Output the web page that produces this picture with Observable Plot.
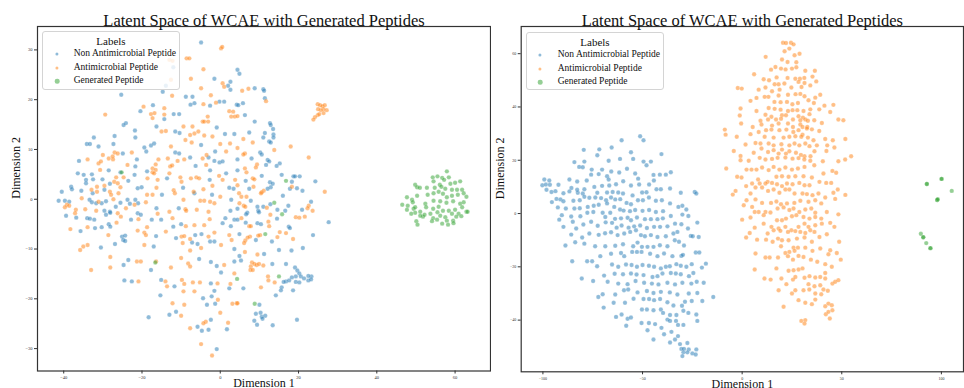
<!DOCTYPE html>
<html><head><meta charset="utf-8">
<script src="https://cdn.jsdelivr.net/npm/d3@7"></script>
<script src="https://cdn.jsdelivr.net/npm/@observablehq/plot@0.6"></script>
<style>
body{margin:0;background:#fff;}
#wrap{position:relative;width:964px;height:388px;overflow:hidden;font-family:"Liberation Serif","Times New Roman",serif;background:#fff;}
.panel{position:absolute;top:0;}
.legend{position:absolute;border:1px solid #d4d4d4;border-radius:3px;background:rgba(255,255,255,0.8);box-sizing:border-box;}
.legend .ttl{position:absolute;left:0;right:0;text-align:center;font-size:11px;color:#111;transform:translateY(-50%);line-height:1;}
.legend .ent{position:absolute;font-size:9.5px;color:#111;transform:translateY(-50%);line-height:1;white-space:nowrap;}
.legend .mk{position:absolute;border-radius:50%;transform:translate(-50%,-50%);}
</style></head>
<body><div id="wrap"></div>
<script>
const title = "Latent Space of WCAE with Generated Peptides";
const labels = ["Non Antimicrobial Peptide", "Antimicrobial Peptide", "Generated Peptide"];
const colors = ["#1f77b4", "#ff7f0e", "#2ca02c"];
const legendTitle = "Labels";
const xLabel = "Dimension 1";
const yLabel = "Dimension 2";

// ---- left panel ----
const leftXTicks = [-40, -20, 0, 20, 40, 60];
const leftYTicks = [-30, -20, -10, 0, 10, 20, 30];
const leftNonAmp = [
[-4.9,31.5],[-12,26.5],[-1.5,24.2],[2.6,23.6],[2,22.8],[-13.9,22.8],[2.6,22],[-14.7,21.6],[-25.3,21],[-8.8,20.6],[-7.1,20.6],[-0.2,19.6],[1,19.6],[-6.6,19.3],[-7.6,19],[-2.6,18.8],[4.2,19],[-17.2,18.9],[-20.4,17.7],[-11.9,17.1],[-10.5,17.1],[-14.3,16.1],[-24.1,15.3],[-24.7,14.9],[-16.3,14.6],[-0.9,14.4],[-11.5,13.6],[-10.4,13.3],[-21.8,13.8],[3.6,13.1],[1.2,13.1],[-27,12.7],[-32.3,12.4],[-21.7,12.4],[-4.9,10.9],[-34.1,11.1],[-33.3,11.1],[-27.3,11.1],[-31.1,10.6],[-17.7,10.8],[-16.9,11.2],[-19.4,10.4],[-24.9,9.2],[-18.9,9.6],[-11.5,9.4],[-10.5,9.2],[-1.3,9.6],[-3,8.4],[-36.1,7.7],[-21.3,8],[-7.7,8.4],[-1.5,7.7],[-0.2,7.4],[0.6,7.6],[-21.7,6.6],[-6.3,6.7],[-2.6,5.8],[-18.7,5.6],[-36.4,5.2],[-34.9,4.9],[-32.8,5],[-28.5,5.8],[-25.5,5.4],[-21.9,4.9],[1.5,5.2],[-34.3,3.9],[-32.5,4],[-30.1,4],[-23.5,3.7],[-13.6,4.2],[-2.7,3.9],[-34.3,3.2],[-28.2,3.1],[-38.1,2.5],[-37.9,2],[-40.5,1.5],[-35.5,1.7],[-29.6,1.9],[-21.1,2.2],[-20.1,2.4],[-9.5,2.3],[2.3,2.3],[3.4,2.1],[-32.6,1.2],[-14.9,0.9],[-6.6,1.2],[-2.1,0.9],[-41.3,-0.3],[-39.7,-0.3],[-38.6,-0.5],[-33.4,-0.1],[-32.8,-0.6],[-31.7,-0.8],[-30.3,-0.8],[-29.2,-0.4],[-23.7,-0.1],[-23.1,-0.9],[-21.7,-0.1],[-25.5,-0.7],[-21,-0.8],[2.8,-0.1],[-16.3,-1.8],[-10.6,-1.8],[2.6,-2.3],[-29.6,-2.3],[-28.2,-2.5],[-26.7,-1.5],[-21.1,-2.8],[-20.3,-3.1],[-39.4,-3.3],[-36.8,-3.7],[-34,-3.8],[-33.3,-3.9],[-32.2,-4.1],[-29.2,-3.1],[-28.1,-2.7],[-22.8,-4.1],[-17.5,-4.1],[-15.1,-4.1],[1.3,-3.8],[3.6,-4.1],[-28.5,-5],[-28.1,-5.5],[-32,-5.8],[-30.3,-5.6],[-12,-5.5],[-10,-5],[0.6,-4.8],[2.7,-5.4],[-16.4,-7.4],[-25.1,-7.5],[-24.3,-7.3],[-35.7,-6.4],[-11.3,-7.8],[-6.4,-7.2],[-4.8,-7],[-2.6,-8.5],[-1.5,-8.5],[-24.8,-8.2],[-24.3,-8.4],[-30.5,-9.7],[-26.9,-9],[-17,-9.5],[-7.2,-8.7],[-5.8,-9],[3.6,-10],[-23.5,-12.2],[-17.7,-14.2],[-5.4,-12],[-2.4,-12.6],[-0.9,-13.4],[3.6,-12.5],[-24.7,-13.2],[0.2,-14.7],[-24.5,-16.3],[-22.6,-16.5],[-15.1,-16.2],[-2.4,-16.9],[-11.7,-17.5],[2.3,-17.9],[-1.5,-18.4],[-15.3,-19.3],[-2.2,-19.5],[-4.4,-19.9],[-3.4,-21.2],[-1.3,-21],[-11.3,-22.6],[-13,-23.2],[-18.3,-23.7],[-2.4,-24.2],[-5.8,-25.6],[-4.7,-26.4],[-3,-26.2],[1.7,-26.1],[-0.9,-30.1],
[4.4,26],[4.9,25.2],[8.8,22.3],[11,22.1],[11.2,21.8],[4.6,18.9],[5.8,19.3],[11.4,20.3],[6.3,16.9],[8.8,15.6],[12.7,15.3],[12.9,14.9],[13.5,14.1],[7.4,13.4],[11.4,13.3],[11,12.4],[12.5,11.6],[12.9,11.4],[13.6,13],[13.6,12.4],[10.2,9.4],[10.6,9],[8,8.2],[4.4,8],[12.1,7.9],[12.5,7.6],[11.7,6.9],[15.2,7.2],[14.4,6.7],[4.4,5.8],[15.7,4.9],[10.6,4.7],[18.7,4.6],[19.1,4.6],[20.3,4.6],[18.3,3.5],[12.7,3.4],[24.3,3.6],[13.4,3.1],[6.5,3.7],[7.4,2.1],[12.9,2.4],[12.1,2.1],[17.8,2.1],[19.6,2.2],[21,1.7],[16,0.7],[7.8,-0.3],[12.8,-1],[9.5,-1.5],[11,-1.5],[17.4,-1.3],[23.2,-0.5],[20.9,-2.1],[4.4,-1.9],[6.9,-2.7],[6.6,-3],[9.7,-2.3],[9.9,-2.6],[14.6,-2.1],[16.6,-2.3],[14.5,-3.9],[4.4,-4.1],[9.5,-4.8],[10.4,-5],[6.5,-4.7],[17.5,-5.5],[17.8,-5.8],[27.7,-4.6],[23.7,-7.2],[4.9,-7],[9.1,-8.2],[13.2,-8.5],[18.2,-10.3],[15,-10.2],[21.1,-9.8],[11.2,-11],[4.9,-11.4],[5.3,-12.3],[13.3,-13],[16.8,-13],[19.1,-13.7],[19.7,-14.3],[20.2,-14.9],[19.3,-15.5],[20.6,-15.5],[16.8,-16.5],[17.6,-16.3],[18.3,-15.7],[16.2,-16.6],[19.3,-16.6],[20.2,-16.7],[21.4,-15.9],[22.5,-16.3],[23.3,-15.5],[23.2,-16.1],[22.5,-15.4],[15.7,-17.7],[15.5,-18.3],[5.9,-17.9],[18.6,-18.3],[14.2,-19.3],[10,-21.2],[9.1,-23],[10.3,-22.8],[10.6,-23.6],[11.5,-23.4],[10.8,-24],[8.7,-24.4],[9.4,-25.2],[13.4,-25.3],[19.6,-24.2]
];
const leftAmp = [
[0.2,30.3],[0.5,30.6],[-13,28],[-12.2,27.8],[-8.6,28.3],[-7.9,28.3],[-4.3,26.1],[-7.5,24.2],[-12.6,24],[0.6,23.3],[1,22.6],[-4.9,22.3],[-2.4,20.9],[-12.3,20.8],[-1.1,19.4],[-4.3,19.1],[-19.6,18.6],[-14.3,18.3],[-17.7,17.1],[-16.8,17.3],[-29.4,17],[-14.3,17],[2.3,17.7],[3.3,17.6],[-3.2,16.6],[-4.5,15.6],[2.8,16.6],[3.7,16.6],[-17.3,16.3],[-4.1,15.6],[-3.1,15.6],[-9.4,14.6],[-7.1,14.6],[-15,13.6],[-13.9,13.7],[-7.7,12.9],[-6.6,13.2],[-5.6,13.6],[-4.1,12.8],[-2,12.6],[-8.9,11.9],[-7.3,11.4],[0,11.1],[-12.6,10.6],[2.5,11.2],[-30,8.9],[-27,9.4],[-26.2,9.2],[-22.6,9.4],[1.5,9.6],[-3.5,8.9],[-28.5,8.2],[-27.4,8],[-27.5,8.6],[-33.9,8],[-15.8,8],[-13.4,8.2],[-9.2,8],[-4.5,8.2],[-10.9,7.7],[-16.5,7],[-31.1,7.2],[-30.5,7.6],[-23.7,6.9],[-12.8,6.6],[-12.3,6.8],[-3.6,6.9],[-17.3,6.2],[-16.5,5.9],[-17.3,5.4],[-16.9,5.2],[-30.7,5.9],[-26.6,4.4],[-13,5.2],[-10.2,4.4],[-7.5,4.2],[-6.1,4.4],[-5.4,4.2],[-0.3,4.7],[0.6,3.9],[-24.7,4.4],[-27.1,3.5],[-18.6,4.2],[-16,3.9],[-9.9,3.5],[3.8,3.9],[-31.5,2.5],[-29.6,2.7],[-26.2,3.2],[-25.5,2.4],[-32.9,1.9],[-31.5,1.5],[-28.2,1.5],[-16.3,2.3],[-11.9,1.8],[-4.3,2],[-2,2.7],[-6.8,1.5],[-27.9,0.9],[-26,1.2],[-18.7,0.9],[-17.3,0.9],[-11.6,1.2],[-5.1,-0.3],[-4.1,-0.3],[0,0.5],[-39.2,-1.1],[-38.6,-1.3],[-39.7,-1.6],[-35.4,0.2],[-27.3,0],[-31.1,-0.5],[-21.9,-1.1],[-19,-0.6],[-9.4,-0.1],[-2.6,-0.5],[-1.5,-0.8],[-13,-2.5],[-8.9,-2],[-8.7,-2.3],[-6,-2.1],[-3,-2.5],[-36.9,-2.1],[-34.5,-2],[-31.7,-2.3],[-24.1,-1.8],[-26.2,-2.8],[-16,-2.9],[-12.2,-3.8],[-37.1,-2.8],[-25.4,-3.5],[-20.9,-4],[-2.7,-4],[-26.5,-4.7],[-38.3,-6],[-33.9,-5.6],[-8.8,-5.4],[-6.6,-5.2],[-18.7,-5.6],[-4.1,-5.2],[-19.4,-6.7],[-19,-7.2],[-28.6,-7.2],[-21.1,-6.3],[-13.9,-6.5],[-9.9,-7.5],[-9.2,-7.4],[-7.7,-8],[-3,-7.5],[-1.5,-6.7],[2.3,-7.2],[2.9,-8.2],[-35,-9.5],[-33.9,-9.2],[-19.4,-9.2],[-9.6,-8.8],[-7.7,-10.3],[-4.9,-9.8],[0.2,-9.2],[-35.8,-10.2],[-28.1,-11.6],[-21.3,-12.5],[-20.3,-12.5],[-16.4,-12.5],[-10,-11.8],[-8.2,-12.9],[-7.7,-13.5],[-12.6,-13.7],[1,-13.2],[-33,-14.2],[-28.1,-13.7],[3.6,-14.9],[-20.9,-16.5],[-14,-16.5],[-9.8,-16.2],[-9.2,-17],[-7,-16.7],[-5.2,-16.7],[-0.7,-16.9],[2.6,-17],[-13.6,-17.5],[-9.4,-18.5],[-6.6,-18.5],[-0.6,-20.2],[3.1,-21],[4.2,-20.9],[-12.2,-20.9],[-9.2,-21.2],[0,-22.8],[-10,-23.4],[-3.7,-24.6],[-4.3,-24.9],[2,-24.8],[-7.7,-25.9],[-4.9,-29.1],[-2.1,-31.4],
[5.6,21.8],[7.2,22.2],[11.7,19.7],[4.4,16.7],[24.9,19.1],[25.5,18.9],[26.1,18.7],[26.7,18.9],[27.2,17.9],[26.4,18.1],[25.7,17.9],[25,18.1],[24.9,16.9],[24.2,16.5],[23.8,16],[26.4,17.3],[25.3,17.1],[5.9,12.1],[8.3,11.4],[18,10.6],[4.4,10.3],[13.8,9.9],[6.3,9.2],[5.9,9],[22.6,8.4],[9.4,7],[9.1,6.4],[6.3,6.2],[6.7,5.4],[8.3,4.2],[8.7,4],[4.4,2.8],[4.8,1.2],[8.5,2.5],[11.1,1.7],[10.6,1.4],[10.4,1.2],[18.3,2.5],[26.7,1.5],[5.4,0.5],[6.7,0.5],[4.9,-0.8],[6,-1.3],[6.4,-1.5],[11.9,-1.7],[22.6,-1.3],[22.3,-1.8],[23.6,-2.3],[12.8,-3.1],[19.3,-3.6],[20.2,-3.7],[21.6,-3.5],[5.4,-3.8],[12.3,-4.5],[12.5,-5.4],[7.4,-5.4],[7.8,-5.4],[15.2,-6.6],[16.8,-6.8],[10.2,-7.2],[9.7,-7.3],[14.6,-7.6],[7.6,-7.5],[7,-7.7],[6.4,-8.3],[6.1,-8.8],[18.6,-8],[6.3,-10.6],[9.5,-11.1],[8.1,-12.7],[8.7,-13],[9.3,-13.2],[7.8,-13.5],[9.9,-13],[11,-13.3],[7.7,-14.2],[8.3,-14.2],[12.2,-15.5],[12.3,-16.3],[13.9,-16.7],[10.4,-17.7],[4.4,-20.9]
];
const leftGen = [
[57.9,5.6],[54.3,4.4],[55.5,4.6],[56.7,4.3],[58.4,4.4],[54.5,3.6],[57.2,3.9],[49.8,2.9],[50.3,2.4],[51,2.3],[56.1,2.9],[56.5,2.5],[58.8,3.1],[60,3.3],[61.3,3.6],[52.8,2.3],[54.8,2.3],[57.5,2.1],[59.2,1.9],[60.5,1.9],[61.8,1.9],[47.7,0.4],[49,-0.1],[50.3,0.7],[53,0.9],[54.5,1.2],[55.8,1.5],[56.9,1.1],[57.9,0.4],[59.2,0.7],[60.7,0.9],[62.2,1.2],[62.9,0.5],[46.5,-1.1],[47.9,-1.3],[49.2,-0.6],[52.4,-0.9],[54.5,-0.3],[56.2,-0.4],[57.8,-0.7],[59.5,-0.4],[61.3,-0.9],[62.2,-0.6],[47.7,-2.1],[49.4,-1.9],[52.6,-1.6],[54.4,-1.9],[55.8,-1.5],[58.4,-2.3],[60,-2.1],[61.8,-1.6],[62.9,-2.5],[49.8,-2.7],[51.1,-2.5],[53.7,-2.9],[55.5,-2.6],[56.9,-2.3],[59.2,-2.9],[60.9,-2.9],[51.8,-3.5],[54.4,-3.8],[56.2,-3.3],[57.5,-3.6],[60.3,-3.5],[61.6,-3.4],[63.2,-2.5],[50.1,-4.4],[51.1,-3.3],[54.1,-4.4],[55.4,-4.1],[57.9,-4.3],[59.5,-4.3],[50.4,-5.1],[56.7,-4.9],[58.2,-5.1],[59.6,-4.8],[48.8,-2.9],[52.2,-3.1],[49.8,-1.6],
[-16.6,-12.7],[4.3,-16],[16.8,3.7],[13.8,-0.7],[15.8,-3],[11.5,-7],[15,-15.5],[8.8,-21],[-25.2,5.4]
];

// ---- right panel ----
const rightXTicks = [-100, -50, 0, 50, 100];
const rightYTicks = [-40, -20, 0, 20, 40, 60];
const rightNonAmp = [
[-51.2,29],[-49.5,27.5],[-60.5,27.5],[-65.5,24.8],[-71.7,24.1],[-79.5,23.9],[-55.8,23],[-72.7,21.9],[-61.3,20.5],[-54.7,20.5],[-40.5,22.3],[-67,19.8],[-49.5,19.5],[-45.8,19.5],[-48,18.1],[-84.2,19.3],[-79.2,19.5],[-81.8,17.5],[-80,17.4],[-75.5,16.5],[-70.3,16.5],[-57.8,16.8],[-65.7,15.8],[-61.7,15.4],[-53.7,15],[-75.8,14.6],[-72,14.8],[-44.5,14.5],[-41.3,14.6],[-38.3,14.6],[-35.8,15.5],[-67.8,14],[-52.2,13.1],[-99.3,12.8],[-96.8,12.4],[-86.7,12.8],[-82.8,12],[-78,12.4],[-67,12.8],[-59.7,12.1],[-44.3,12.4],[-100.3,10.6],[-98.5,10.9],[-96.5,10.8],[-92.2,10.8],[-85.7,9.6],[-74.2,10],[-70.3,10.4],[-66.7,10.5],[-63.3,11],[-55.8,10.5],[-51.7,10.9],[-46.7,10.9],[-43,9.1],[-40.8,9.1],[-36.2,9.4],[-98.2,8.9],[-95.7,8.1],[-93.7,8.4],[-89.7,7.6],[-86.7,8.3],[-82.5,7.8],[-80,7.5],[-79.2,9.1],[-82.8,8.9],[-72.7,7.8],[-67.8,7.9],[-65,8.1],[-62.2,7.9],[-59.8,7.5],[-55,6.8],[-50.2,7.9],[-48,8],[-30.8,7.8],[-23.8,8.1],[-23,7.5],[-93.2,5.5],[-91.2,5.3],[-89.7,4.6],[-95.5,4.3],[-84.7,4.8],[-81.5,5],[-79.2,6.3],[-76.7,5.9],[-73.7,6],[-70.8,5.8],[-68.3,5],[-65.8,6],[-63.7,5.3],[-61.2,5.4],[-58,4],[-55.8,3.5],[-52.3,5],[-49.8,5],[-46.8,6],[-43.3,4.8],[-40.3,5],[-36.2,3.8],[-32,2.5],[-30,2.9],[-28,1.5],[-92.5,2.3],[-88.5,1.9],[-84.2,1.9],[-81.5,2],[-77.5,2.5],[-74.5,2.9],[-72,3.3],[-67.8,3.8],[-64.2,2.5],[-61.3,1.5],[-59.5,1.1],[-56.3,0.9],[-53.7,1.3],[-50,1],[-46.7,1.3],[-43.3,0.6],[-39.7,0.9],[-90.5,-0.6],[-85.8,-1.1],[-81.2,-1],[-77.7,0.3],[-74.7,0.6],[-70,0.3],[-66.2,0.3],[-68.7,-1.3],[-63.8,-2],[-60.8,-1.8],[-57.5,-1.6],[-55.8,-2.5],[-52.8,-1.5],[-48.8,-2.1],[-45.8,-2.1],[-42.5,-2.1],[-39.8,-1.8],[-35.8,-0.9],[-30,-0.4],[-27,-0.9],[-91.8,-2.3],[-89.7,-5],[-85,-3.1],[-83.3,-5.6],[-79.7,-4.1],[-75.8,-3.1],[-72.5,-4.6],[-68.5,-3.3],[-65.3,-3.5],[-63,-5.3],[-60.5,-4.5],[-57,-5.3],[-54.2,-4.8],[-51.2,-4.5],[-47.8,-5.4],[-44.2,-5],[-41.2,-5],[-37.5,-4.8],[-33.7,-3.8],[-30.5,-4],[-22.5,-3.4],[-85.8,-7.9],[-80.3,-9],[-76.7,-7.5],[-72,-8],[-68.8,-7.4],[-65.8,-7],[-62.5,-8.1],[-59.2,-7.5],[-56.2,-6.9],[-53.3,-6.3],[-50.8,-8.1],[-48.8,-8.5],[-45.8,-8.1],[-42.5,-8.8],[-38.3,-8.5],[-34.5,-7.5],[-32.5,-6.9],[-27.2,-5.6],[-25.8,-8.4],[-24.8,-8.5],[-21.8,-8.8],[-83.8,-10.8],[-79.2,-11.3],[-88.7,-12],[-73.8,-12.3],[-68.7,-12.3],[-63.7,-12.1],[-59.8,-11.5],[-54.7,-12.3],[-52.5,-10.9],[-50.3,-12.5],[-47.5,-12.5],[-44.5,-12.5],[-41.3,-11.9],[-37.5,-12.3],[-33.8,-10],[-31.7,-10.6],[-29.2,-12],[-23.3,-14.6],[-21.5,-14.6],[-71.2,-16],[-65.8,-15.1],[-60.8,-14.8],[-59.2,-16],[-55.2,-14.4],[-52.8,-14.4],[-50.5,-14.4],[-46.2,-15.1],[-42.5,-16],[-39.2,-15],[-35,-16],[-30.5,-15.9],[-29.7,-15.5],[-85.3,-17.9],[-77.8,-17.9],[-75.3,-17.9],[-72.8,-19.8],[-65.3,-19.1],[-62.2,-20],[-58.3,-19.1],[-55.5,-19.3],[-52.8,-20],[-50,-19.3],[-46.8,-19.6],[-44.2,-20],[-40.8,-20.6],[-38.3,-20],[-36.3,-19.8],[-33,-19],[-30.8,-19.6],[-28,-20],[-25.3,-19],[-20.2,-20.3],[-18.2,-18.8],[-80.5,-24.4],[-74.8,-25.3],[-69.3,-23.3],[-64,-22.6],[-59.8,-22.8],[-55.8,-22.5],[-53,-22.9],[-49.5,-23.1],[-45,-23.8],[-42.5,-23.5],[-40,-22.5],[-35.8,-22.3],[-33.3,-22.5],[-30.8,-22.8],[-26.7,-23.5],[-24.5,-22.3],[-22.8,-25.6],[-19.3,-26],[-67.5,-25.6],[-62.2,-26.3],[-57.5,-26.5],[-53.5,-25.3],[-49.2,-26],[-45.3,-26.3],[-42,-26.6],[-37.5,-26],[-33.7,-26.6],[-30,-26],[-25.5,-26.3],[-72.2,-31.3],[-70,-30.3],[-63.7,-30.4],[-59.3,-28.8],[-57.2,-28.5],[-52.5,-29.6],[-47.8,-29.1],[-44.5,-29.8],[-40.8,-29.4],[-36.3,-29.6],[-32.5,-30.4],[-28.7,-33.1],[-26.8,-30],[-22.5,-29.8],[-20,-32.8],[-14.5,-31.3],[-69.5,-35.3],[-64.5,-33.5],[-58.8,-33.5],[-54.5,-32],[-49.5,-32.1],[-46.7,-32.1],[-44.2,-32.5],[-41.2,-32.1],[-37.5,-33.3],[-34.5,-34.5],[-30.2,-34.6],[-25.3,-32.8],[-63.3,-38.8],[-60.5,-37.9],[-57.5,-39.5],[-55.8,-39],[-50.3,-36],[-47.8,-36],[-44.5,-36.3],[-40.8,-36],[-39.7,-37.3],[-36.2,-38.1],[-33,-38.1],[-29.5,-36.5],[-27,-37.3],[-23,-37.9],[-22.5,-40.3],[-58.2,-42.1],[-50.5,-41.1],[-46.8,-41.1],[-43.7,-41.5],[-40.5,-42.9],[-37.5,-39.8],[-36.2,-40.3],[-33.2,-40.3],[-32.2,-41.8],[-29.5,-41.8],[-47.5,-43.8],[-44.5,-47.3],[-39.2,-45.3],[-35.5,-44.4],[-33.7,-47.3],[-32.2,-46],[-36.2,-48.4],[-31.2,-49],[-27.5,-48.6],[-30.5,-50.8],[-29.2,-50.8],[-26.8,-51],[-29.5,-52.1],[-27.5,-52.1],[-25,-52.5],[-23.3,-52.9],[-23,-51],[-30,-53.5]
];
const rightAmp = [
[20.5,64.1],[22,64],[24.5,64.1],[25.8,63.5],[23.7,61.9],[21.3,60.9],[26.3,59.4],[28.8,60],[11.8,58.8],[20,57.8],[22.8,56.9],[27.2,56.8],[16.7,55],[19.5,54.4],[21.8,54.1],[25,54.4],[27.2,54.9],[14.5,54],[31.7,53.6],[36.5,53.6],[6,52.3],[10.8,50.4],[13.5,50],[17.3,51.1],[22.8,50.9],[26.7,50.6],[29,50.6],[31.2,50.9],[35.3,51.4],[37.2,49.6],[16.3,48.5],[18.3,48.5],[21.2,48.8],[28.3,49.4],[31.3,49],[24.7,47.3],[29.8,47.5],[34.2,48.1],[-2.2,47.1],[-0.2,46.9],[8.3,46.5],[11.7,47.3],[15,45.9],[18.8,46.5],[23,44.6],[26.8,44.8],[29.2,44.9],[31.3,44],[18.3,44.3],[13.2,43.8],[7.2,43.4],[11.3,43.8],[39.2,44.6],[36.7,43.5],[4.2,42.3],[16.2,41.9],[19.3,41.8],[22.5,41.9],[25.2,41],[28,41.5],[33.3,42.5],[36,41.5],[38.7,39.1],[41.3,40.5],[45.8,40.8],[-0.8,39.4],[7.2,38.5],[13.3,39.6],[16.3,39.3],[19.3,39],[23,38.5],[25.3,38.8],[27.7,38.8],[30.8,38.5],[34.2,39.1],[44.2,38.1],[-1.2,36.8],[11.7,37.1],[14.7,36.3],[20,36.9],[22,36.9],[28.3,36.5],[30.5,36],[33.8,37.3],[9.2,34.8],[13,35.3],[17,35.3],[19.5,35.6],[25.5,35.3],[29.2,35],[31.7,35.3],[33,34.8],[36.2,35],[48.3,35.3],[50.8,35],[-0.5,33.8],[5.3,32.5],[9.7,33.4],[15,33],[18.3,33.8],[23,33.8],[25.5,32.5],[29.2,33.4],[30.3,32.5],[32.7,32.5],[35,31.6],[40,34],[-8.7,31.5],[-8.3,29.6],[8.3,30.6],[12,31.3],[14.7,31.5],[18.7,31.3],[22.2,31.5],[25.7,30.6],[28.3,31.3],[30.3,29.6],[32.5,31.9],[38.7,31],[-2.7,28.8],[4.2,29.8],[11.3,28.8],[15.8,28.5],[20.8,28.5],[23.7,28.8],[26.7,29],[29.7,28.8],[33,28.5],[35.8,27.5],[41.7,28],[45.5,27.5],[51.8,28],[1.7,25.9],[6.7,26.5],[9.2,26.3],[13.3,26.3],[15.8,25.6],[19.7,26],[23.7,25.6],[26.3,26.3],[28.7,25.6],[31.7,26.3],[33.8,25.3],[37.5,25.6],[42.7,25.6],[46.3,24.8],[-4.2,23.5],[-0.8,21.6],[-0.8,20],[5.8,22.8],[9.7,24.4],[13,23.1],[15.8,23.8],[18.3,22.5],[20,24],[22,22.5],[23.7,23.4],[27,22.8],[29.5,22],[31.3,21.5],[34.3,21.5],[36.3,23.4],[42.3,23.5],[54.7,21.5],[51.7,20.3],[3.3,19.8],[8.8,20.9],[11.7,20.3],[15,20.5],[17.8,20.9],[21.7,21],[25.3,20.6],[28.3,20.8],[31.2,20.3],[34.2,19.8],[40.5,19.6],[48.3,19.6],[-8,16.9],[2.2,16.5],[4.7,16.5],[7.2,16.5],[10,17.3],[13.3,16.3],[15.8,17.5],[18.7,16.5],[21.7,17.3],[25,16.5],[28,16.9],[31.3,17.5],[36.2,18.1],[45.3,16],[47.2,15.3],[-2.5,13.8],[-0.3,13.5],[8,12.8],[12.8,11.9],[17.2,13.8],[20,14],[23.3,13.8],[26.7,14],[30.8,14],[35,13.5],[40.8,15],[2,10.3],[5,11.3],[8.8,11.3],[11.7,11.3],[15,11.5],[17.5,11],[20,10.3],[22.5,11.3],[25.3,11],[28.7,11.5],[31.3,10.6],[33.8,10.6],[38.8,11.9],[42.2,11.5],[44.7,11.5],[-3.3,8.5],[-4.7,7.1],[4.2,7.5],[6.7,9.8],[10,9.8],[13,8.5],[15.8,9],[18.7,7.8],[21.7,9],[23.7,9],[26.3,7.5],[30.3,7.5],[32.5,7.3],[35.3,6.9],[38.3,7.5],[41.7,6],[45.8,7.8],[48,9],[51.8,7],[2.2,5],[6.7,5.3],[10,4],[14.5,4],[17.2,4.5],[19.5,3.5],[22.5,3.8],[26.2,4],[29.2,4.8],[33.3,4.4],[36.7,5],[39.7,3.8],[46.7,5.5],[0.8,3.1],[5,2.5],[8.3,0.6],[11.7,0.6],[14.2,0.4],[17.8,1.9],[20.8,2.3],[23.7,1.3],[25.8,1.9],[28.7,0.6],[31.7,1.5],[34.7,1.9],[36.7,0.3],[42.5,0.6],[48.3,-0.3],[0,-2.3],[4.2,-1.5],[6.3,0.6],[10.8,-0.6],[17.5,-2.5],[20,-2.5],[22,-1.9],[25,-1],[27.2,-0.6],[30.8,-1.3],[33.8,-1.9],[36.7,-1.3],[39.7,-1.9],[6.3,-5.3],[10.8,-3.8],[14.7,-5],[18.3,-5.6],[21.7,-5],[24.7,-6.3],[28.3,-5],[31.3,-3.8],[33.3,-5],[36.7,-4.4],[40,-3.8],[44.2,-3.5],[46.3,-5],[3.8,-7.3],[12.8,-7.5],[15.8,-6.3],[19.2,-6.5],[23,-6.9],[26.7,-6.6],[29.2,-6.9],[31.7,-7.3],[34.2,-6.3],[36.3,-6.9],[42.5,-7.8],[2,-9],[7.5,-9.8],[12,-9.8],[15.3,-10.6],[18,-9.4],[20,-10],[23.3,-10],[27.5,-9.4],[31.3,-9],[35,-10.6],[38.8,-8.8],[48.7,-10.6],[19.5,-12.3],[25.8,-12.8],[28,-12.8],[31.7,-12.8],[35.3,-14],[39.2,-13.1],[44.2,-13.8],[47.5,-14.8],[49.5,-17.3],[6.7,-15],[11.7,-16.5],[13.8,-16.5],[18,-16.5],[21.7,-14.8],[23.7,-14.4],[26.3,-14],[23,-16],[25.5,-17.3],[28.3,-15.9],[30.8,-16.3],[34.5,-17.3],[37.7,-18.1],[41.7,-19],[43.3,-15.3],[45,-20],[6.3,-21],[17.2,-20.6],[19.7,-24.4],[23.3,-21.5],[25.8,-21.3],[28.3,-21],[30.3,-20.6],[31.3,-24.1],[33.8,-23.5],[36.7,-24],[39.2,-23.8],[41.7,-24.4],[45.3,-26.3],[46.7,-25.6],[48.3,-25],[41.7,-22.3],[11.2,-24.4],[14.3,-24.8],[22.2,-26.5],[25.5,-24.8],[26.7,-23.8],[33.3,-26.5],[36.3,-27.3],[39.2,-26.9],[40.8,-28.5],[18.3,-28.8],[25,-30],[26.7,-28.8],[30.8,-28.8],[33.7,-28.5],[36.7,-30],[39.7,-30.3],[43,-29],[28.3,-32.5],[31.7,-33.5],[35,-34],[36.7,-32.3],[41.7,-34.8],[43.3,-33.8],[45,-34.4],[45.3,-36.3],[42,-37.8],[43.3,-36.9],[44,-39.4],[20.8,-35],[29.7,-40.3],[31.7,-40],[31.3,-41.3]
];
const rightGen = [
[100.1,13],[100.1,13],[92.7,11.1],[92.7,11.1],[105.2,8.5],[97.9,5.1],[97.9,5.1],[98.2,5.4],[89.7,-7.6],[90.9,-8.9],[90.9,-8.9],[92.4,-11.1],[94.5,-13],[94.5,-13]
];

const serif = "'Liberation Serif','Times New Roman',serif";

function makePanel(cfg) {
  const rows = [];
  cfg.series.forEach((pts, k) => pts.forEach(([x, y]) => rows.push({x, y, label: labels[k]})));
  return Plot.plot({
    width: cfg.width, height: 388,
    marginLeft: cfg.ml, marginRight: 1, marginTop: 26, marginBottom: cfg.mb,
    x: {domain: cfg.xd}, y: {domain: cfg.yd},
    color: {domain: labels, range: colors},
    style: {fontFamily: serif, background: "transparent", color: "#222", overflow: "hidden"},
    marks: [
      Plot.dot(rows, {x: "x", y: "y", r: 2.2, fill: "label", fillOpacity: 0.5, stroke: "white", strokeWidth: 0.2}),
      Plot.frame({stroke: "#333", strokeWidth: 1.2}),
      Plot.axisX({ticks: cfg.xt, tickSize: 3, tickPadding: 2, fontSize: cfg.tf, label: null, stroke: "#333", fill: "#333"}),
      Plot.axisY({ticks: cfg.yt, tickSize: 3, tickPadding: 2, fontSize: cfg.tf, label: null, stroke: "#333", fill: "#333"}),
      Plot.text([title], {text: d => d, frameAnchor: "top", dy: -12, fontSize: 16.5, fill: "#111"}),
      Plot.text([xLabel], {text: d => d, frameAnchor: "bottom", dy: 16, fontSize: 12, fill: "#111"}),
      Plot.text([yLabel], {text: d => d, frameAnchor: "left", dx: cfg.ydx, rotate: -90, fontSize: 12, fill: "#111"})
    ]
  });
}

function makeLegend(cfg) {
  const box = document.createElement("div");
  box.className = "legend";
  Object.assign(box.style, {left: cfg.left + "px", top: cfg.top + "px", width: cfg.w + "px", height: cfg.h + "px"});
  const t = document.createElement("div");
  t.className = "ttl"; t.textContent = legendTitle; t.style.top = "8.5px";
  box.appendChild(t);
  labels.forEach((lab, i) => {
    const yy = 22 + i * 13.7;
    const mk = document.createElement("div");
    mk.className = "mk";
    const r = i === 2 ? 2.3 : 1.6;
    Object.assign(mk.style, {left: cfg.mx + "px", top: yy + "px", width: 2 * r + "px", height: 2 * r + "px", background: colors[i], opacity: 0.5});
    box.appendChild(mk);
    const e = document.createElement("div");
    e.className = "ent"; e.textContent = lab;
    Object.assign(e.style, {left: cfg.tx + "px", top: yy + "px"});
    box.appendChild(e);
  });
  return box;
}

const wrap = document.getElementById("wrap");
const left = makePanel({width: 491, ml: 37, mb: 17.5, xd: [-46.7, 69.05], yd: [-34.5, 34.7], xt: leftXTicks, yt: leftYTicks, tf: 4.5, ydx: -21.5, series: [leftNonAmp, leftAmp, leftGen]});
left.classList.add("panel"); left.style.left = "0px";
const right = makePanel({width: 474, ml: 30.7, mb: 16.7, xd: [-110.9, 111.1], yd: [-59.4, 70.2], xt: rightXTicks, yt: rightYTicks, tf: 4, ydx: -20.7, series: [rightNonAmp, rightAmp, rightGen]});
right.classList.add("panel"); right.style.left = "490px";
wrap.appendChild(left);
wrap.appendChild(right);
wrap.appendChild(makeLegend({left: 42, top: 31, w: 138, h: 59, mx: 14, tx: 30.7}));
wrap.appendChild(makeLegend({left: 526, top: 32, w: 138, h: 58, mx: 13, tx: 30.7}));
</script>
</body></html>
